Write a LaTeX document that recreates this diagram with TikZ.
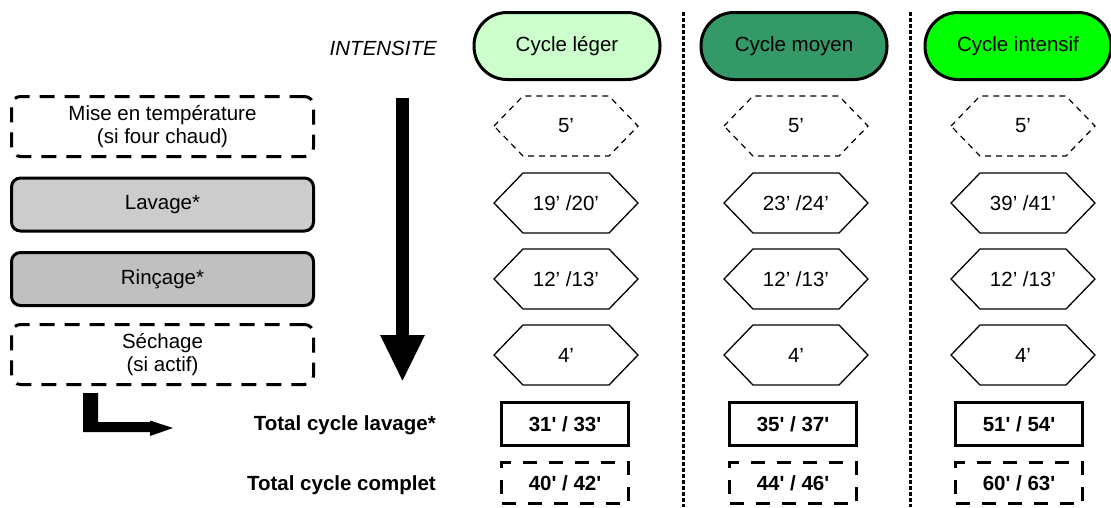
\documentclass[tikz,border=0pt]{standalone}
\usepackage{fontspec}
\setmainfont{Liberation Sans}
\usetikzlibrary{calc,arrows.meta}
\definecolor{leger}{HTML}{CCFFCC}
\definecolor{moyen}{HTML}{339966}
\definecolor{intensif}{HTML}{00FF00}
\definecolor{lavfill}{HTML}{CCCCCC}
\definecolor{rinfill}{HTML}{C0C0C0}
\newcommand\hexa[5]{%
  \node[hexlabel] (#1) at (#2,#3) {#4};
  \draw[#5] ($(#1.center)+(-72,0)$) -- ++(29,-30) -- ++(86,0) -- ++(29,30)
     -- ++(-29,30) -- ++(-86,0) -- cycle;}
\newcommand\sq{\textquotesingle}
\begin{document}
\begin{tikzpicture}[x=1pt,y=-1pt,
  every node/.style={font=\fontsize{20.5}{23}\selectfont, inner sep=0pt},
  pill/.style={draw, line width=3pt, rounded corners=33pt, minimum width=186pt, minimum height=67pt},
  stepbox/.style={draw, line width=3pt, rounded corners=9pt, minimum width=302pt, minimum height=53pt, align=center},
  optbox/.style={stepbox, minimum height=60pt, dash pattern=on 15pt off 10pt},
  hexlabel/.style={},
  hexsolid/.style={line width=1.3pt, line join=miter},
  hexdash/.style={line width=1.2pt, dash pattern=on 6pt off 5pt},
  totbox/.style={draw, line width=3.5pt, minimum width=127pt, minimum height=43pt, font=\fontsize{20.5}{23}\selectfont\bfseries},
  totdash/.style={totbox, minimum height=41pt, dash pattern=on 14pt off 12pt},
  rowlabel/.style={anchor=east, font=\fontsize{20.5}{23}\selectfont\bfseries},
  dotline/.style={line width=3pt, dash pattern=on 3.5pt off 2.5pt},
]
\useasboundingbox (0,0) rectangle (1111,507);

% header
\node[anchor=east, font=\fontsize{20.5}{23}\selectfont\itshape] (intens) at (437,48) {INTENSITE};
\node[pill, fill=leger] (p1) at (567,46) {Cycle léger};
\node[pill, fill=moyen] (p2) at (794,46) {Cycle moyen};
\node[pill, fill=intensif] (p3) at (1018,46) {Cycle intensif};

% dotted separators
\coordinate (s1t) at (683,12); \coordinate (s1b) at (683,507);
\coordinate (s2t) at (910,12); \coordinate (s2b) at (910,507);
\draw[dotline] (s1t) -- (s1b);
\draw[dotline] (s2t) -- (s2b);

% left step boxes
\node[optbox] (mise) at (162.5,126.5) {Mise en température\\(si four chaud)};
\node[stepbox, fill=lavfill] (lav) at (162.5,204.5) {Lavage*};
\node[stepbox, fill=rinfill] (rin) at (162.5,279) {Rinçage*};
\node[optbox] (sec) at (162.5,354.5) {Séchage\\(si actif)};

% big down arrow
\coordinate (arrtop) at (402.5,98);
\coordinate (arrbot) at (402.5,382);
\draw[line width=13pt, -{Triangle[length=47pt,width=41pt]}] (arrtop) -- (arrbot);

% L arrow
\coordinate (lstart) at (83,393);
\fill (lstart) -- ++(15,0) -- ++(0,29) -- ++(52,0) -- ++(0,-1.5) -- ++(23,7.5)
   -- ++(-23,8) -- ++(0,-4) -- ++(-67,0) -- cycle;

% hexagons
\hexa{h11}{566}{126}{5’}{hexdash}
\hexa{h12}{566}{203}{19’ /20’}{hexsolid}
\hexa{h13}{566}{279}{12’ /13’}{hexsolid}
\hexa{h14}{566}{355}{4’}{hexsolid}
\hexa{h21}{796}{126}{5’}{hexdash}
\hexa{h22}{796}{203}{23’ /24’}{hexsolid}
\hexa{h23}{796}{279}{12’ /13’}{hexsolid}
\hexa{h24}{796}{355}{4’}{hexsolid}
\hexa{h31}{1023}{126}{5’}{hexdash}
\hexa{h32}{1023}{203}{39’ /41’}{hexsolid}
\hexa{h33}{1023}{279}{12’ /13’}{hexsolid}
\hexa{h34}{1023}{355}{4’}{hexsolid}

% totals
\node[rowlabel] (tl) at (436,425) {Total cycle lavage*};
\node[rowlabel] (tc) at (436,485) {Total cycle complet};
\node[totbox] (t1) at (565,424) {31\sq{} / 33\sq};
\node[totbox] (t2) at (793,424) {35\sq{} / 37\sq};
\node[totbox] (t3) at (1019,424) {51\sq{} / 54\sq};
\node[totdash] (c1) at (565,483) {40\sq{} / 42\sq};
\node[totdash] (c2) at (793,483) {44\sq{} / 46\sq};
\node[totdash] (c3) at (1019,483) {60\sq{} / 63\sq};
\end{tikzpicture}
\end{document}
